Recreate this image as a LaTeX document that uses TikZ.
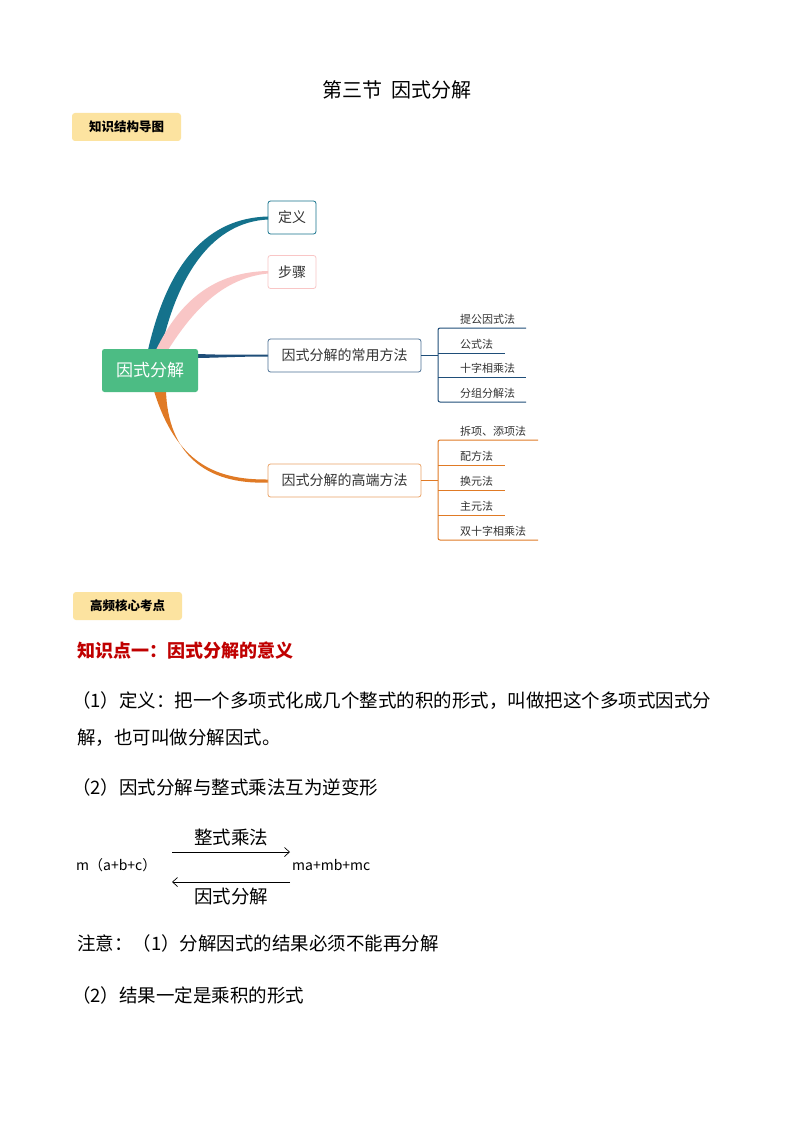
\documentclass[tikz,border=0pt]{standalone}
\usepackage{fontspec}
\setmainfont{Noto Sans CJK SC}
\usetikzlibrary{arrows.meta}
\begin{document}
\begin{tikzpicture}[x=1pt,y=-1pt,
  badge/.style={fill=badgeY,rounded corners=3pt,minimum width=109pt,minimum height=28pt,font=\fontsize{12.5}{12.5}\selectfont\bfseries,inner sep=0},
  box/.style={draw,rounded corners=2.5pt,line width=0.8pt,minimum height=33pt,font=\fontsize{14}{14}\selectfont,text=black!80,inner sep=0},
  leaf/.style={anchor=south west,font=\fontsize{11}{11}\selectfont,text=black!80,inner sep=1pt},
  body/.style={anchor=west,font=\fontsize{18.5}{18.5}\selectfont,inner sep=0},
  arr/.style={-{Straight Barb[length=5pt,width=9pt]},line width=0.7pt}]
\definecolor{badgeY}{HTML}{FCE3A0}
\definecolor{rootG}{HTML}{4CBC84}
\definecolor{teal}{HTML}{14728C}
\definecolor{pinkc}{HTML}{F9C6C6}
\definecolor{navy}{HTML}{1F4E79}
\definecolor{orng}{HTML}{E07A25}
\definecolor{redh}{HTML}{C00000}
\useasboundingbox (0,0) rectangle (794,1123);
\fill[white] (0,0) rectangle (794,1123);

\node (title) at (397,90) {\fontsize{20}{20}\selectfont 第三节\ \ 因式分解};
\node[badge] (b1) at (126.5,127) {知识结构导图};

% branches
\fill[teal] (148,350) .. controls (168,262) and (208,218) .. (268,216.5) -- (268,219.5) .. controls (214,222) and (178,272) .. (161,350) -- cycle;
\fill[pinkc] (156,350) .. controls (180,300) and (215,272) .. (268,271) -- (268,273.5) .. controls (222,278) and (192,312) .. (168,350) -- cycle;
\fill[orng] (154,391) .. controls (176,462) and (214,480) .. (268,479.5) -- (268,482.5) .. controls (204,485) and (168,452) .. (166,391) -- cycle;
\fill[navy] (198,354) .. controls (225,355) and (240,354.7) .. (268,354.7) -- (268,356.5) .. controls (240,356.5) and (225,357.5) .. (198,358) -- cycle;

\node[fill=rootG,rounded corners=2.5pt,minimum width=96pt,minimum height=43pt,text=white,font=\fontsize{17}{17}\selectfont,inner sep=0] (root) at (150,370.5) {因式分解};
\node[box,draw=teal,minimum width=48pt] (dy) at (292,217.5) {定义};
\node[box,draw=pinkc,minimum width=48pt] (bz) at (292,272) {步骤};
\node[box,draw=navy!80,minimum width=153pt] (cy) at (344.5,355.5) {因式分解的常用方法};
\node[box,draw=orng!70,minimum width=153pt] (gd) at (344.5,480.5) {因式分解的高端方法};

% common methods
\coordinate (cj) at (438,355.5);
\draw[navy,line width=1pt] (cy.east) -- (cj);
\draw[navy,line width=1pt,rounded corners=2pt] (526,328) -- (438,328) -- (438,402) -- (526,402);
\draw[navy,line width=1pt] (438,353) -- (505,353);
\draw[navy,line width=1pt] (438,377) -- (526,377);
\node[leaf] (c1) at (459,326) {提公因式法};
\node[leaf] (c2) at (459,351) {公式法};
\node[leaf] (c3) at (459,375) {十字相乘法};
\node[leaf] (c4) at (459,400) {分组分解法};

% advanced methods
\coordinate (gj) at (438,480.5);
\draw[orng,line width=1pt] (gd.east) -- (gj);
\draw[orng,line width=1pt,rounded corners=2pt] (538,440) -- (438,440) -- (438,540) -- (538,540);
\draw[orng,line width=1pt] (438,465) -- (505,465);
\draw[orng,line width=1pt] (438,490) -- (505,490);
\draw[orng,line width=1pt] (438,515) -- (505,515);
\node[leaf] (g1) at (459,438) {拆项、添项法};
\node[leaf] (g2) at (459,463) {配方法};
\node[leaf] (g3) at (459,488) {换元法};
\node[leaf] (g4) at (459,513) {主元法};
\node[leaf] (g5) at (459,538) {双十字相乘法};

\node[badge] (b2) at (127.5,606) {高频核心考点};
\node[anchor=west,font=\fontsize{18}{18}\selectfont\bfseries,text=redh,inner sep=0] (h1) at (77,651) {知识点一：因式分解的意义};
\node[body] (p1) at (72,701) {（1）定义：把一个多项式化成几个整式的积的形式，叫做把这个多项式因式分};
\node[body] (p2) at (77,738) {解，也可叫做分解因式。};
\node[body] (p3) at (72,787) {（2）因式分解与整式乘法互为逆变形};

\node[anchor=west,font=\fontsize{14}{14}\selectfont,inner sep=0] (lhs) at (76,865) {m（a+b+c）};
\node[anchor=west,font=\fontsize{14}{14}\selectfont,inner sep=0] (rhs) at (292,865) {ma+mb+mc};
\coordinate (a1) at (172,852); \coordinate (a2) at (290,852);
\coordinate (a3) at (290,882); \coordinate (a4) at (172,882);
\draw[arr] (a1) -- (a2);
\draw[arr] (a3) -- (a4);
\node[font=\fontsize{18.5}{18.5}\selectfont,inner sep=0] (t1) at (231,837) {整式乘法};
\node[font=\fontsize{18.5}{18.5}\selectfont,inner sep=0] (t2) at (231,896) {因式分解};

\node[body] (n1) at (77,943) {注意：（1）分解因式的结果必须不能再分解};
\node[body] (n2) at (72,995) {（2）结果一定是乘积的形式};
\end{tikzpicture}
\end{document}
